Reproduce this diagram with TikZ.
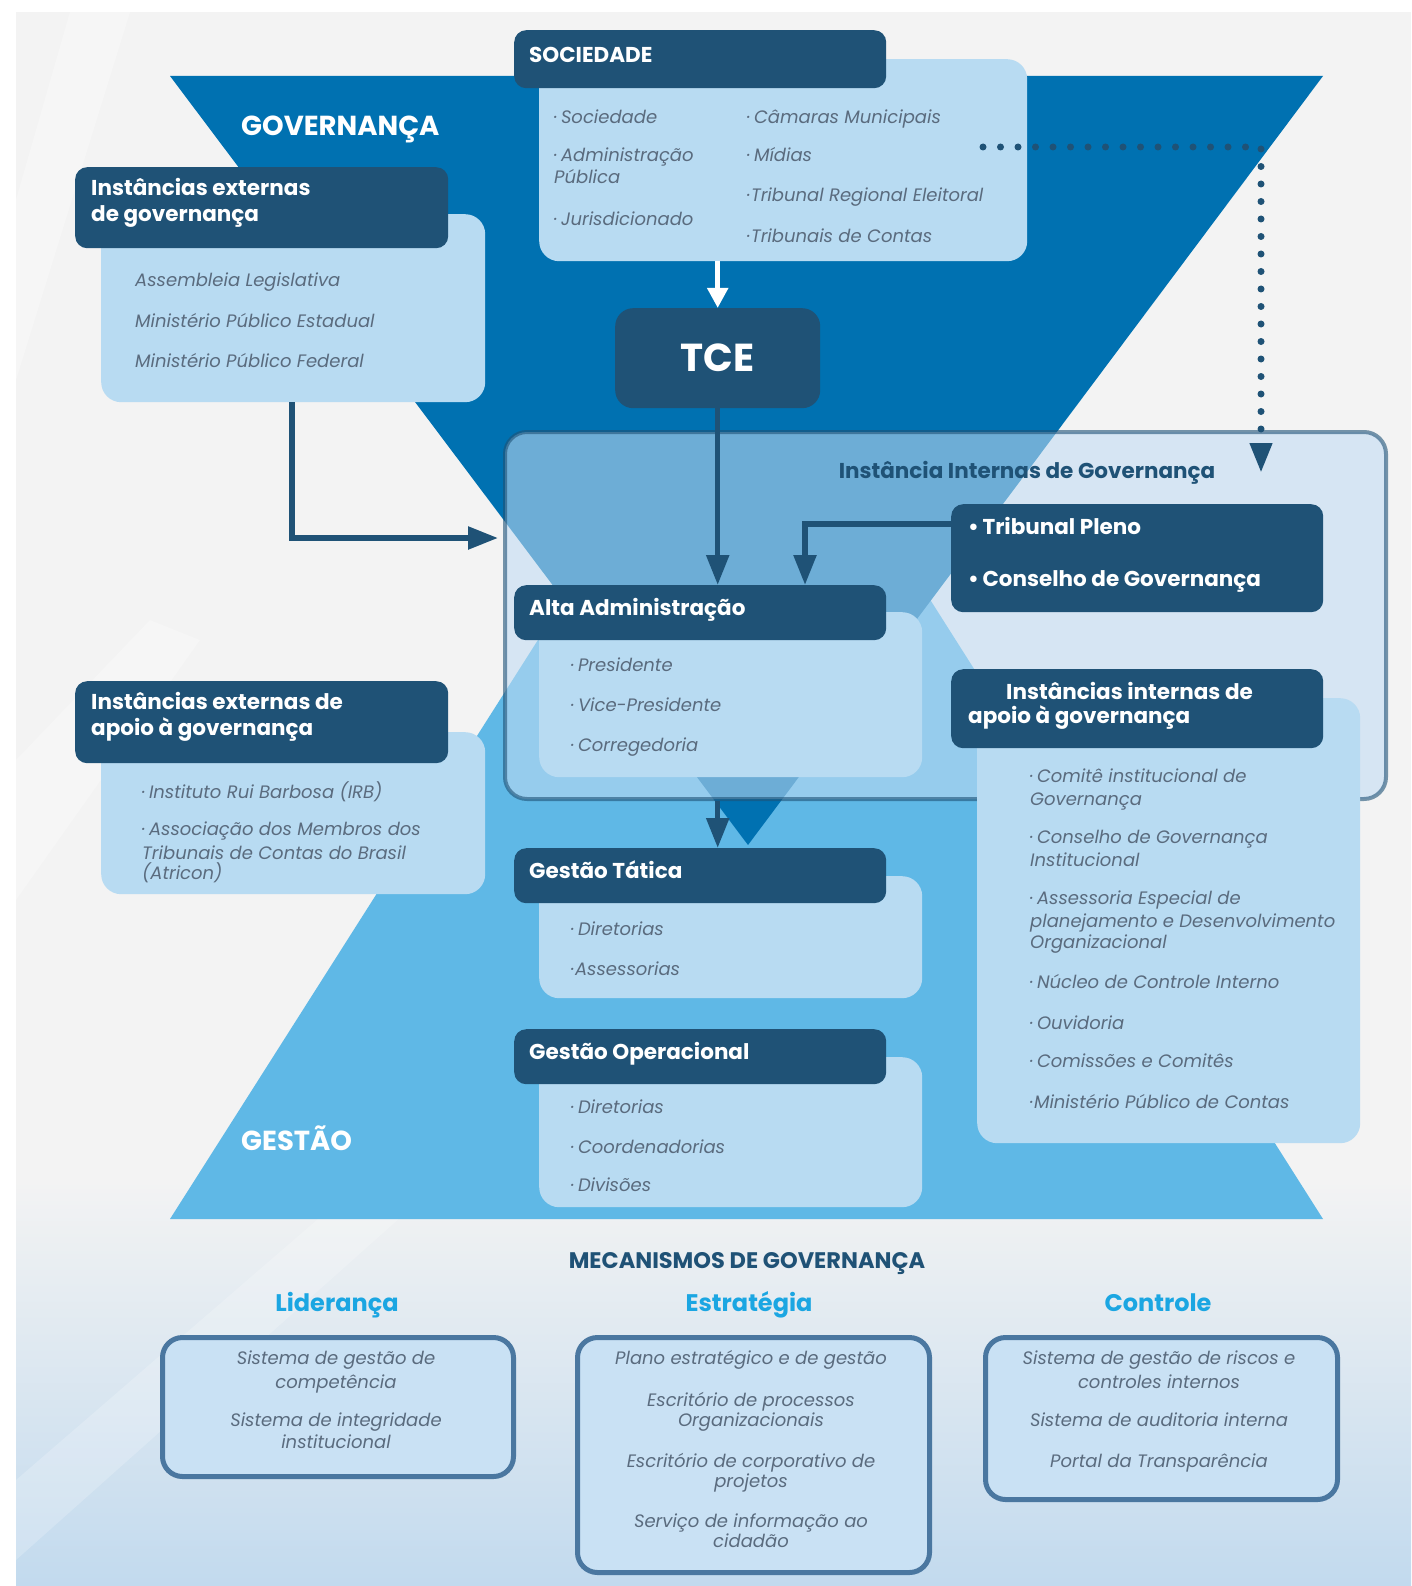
\documentclass[tikz,border=0pt]{standalone}
\usepackage{fontspec}
\setmainfont{Poppins}
\usetikzlibrary{arrows.meta,calc}
\definecolor{bggray}{HTML}{F3F3F3}
\definecolor{bgblue}{HTML}{C2DAEE}
\definecolor{govblue}{HTML}{0071B1}
\definecolor{gestblue}{HTML}{5FB8E6}
\definecolor{navy}{HTML}{1F5276}
\definecolor{bodyblue}{HTML}{B8DBF2}
\definecolor{overlayblue}{HTML}{C0DCF3}
\definecolor{itemgray}{HTML}{5A6B7E}
\definecolor{cyantit}{HTML}{1BA6E2}
\definecolor{mecfill}{HTML}{C9E1F4}
\definecolor{mecframe}{HTML}{4A77A0}
\newcommand\mkbox[6]{\node[#2, minimum width=#5pt, minimum height=#6pt] (#1) at (#3,#4) {};}
\begin{document}
\begin{tikzpicture}[x=1pt,y=-1pt,
  hdr/.style={fill=navy, rounded corners=12pt, anchor=north west, inner sep=0pt, draw=none},
  bodybox/.style={fill=bodyblue, rounded corners=20pt, anchor=north west, inner sep=0pt},
  hdrtxt/.style={text=white, font=\fontsize{21.5}{24}\selectfont\bfseries, anchor=west, inner sep=0pt, text height=0.7em, text depth=0.2em, yshift=-4pt},
  itm/.style={text=itemgray, font=\fontsize{18}{21}\selectfont\itshape, anchor=west, inner sep=0pt, text height=0.7em, text depth=0.2em, yshift=-4pt},
  mitm/.style={itm, anchor=center},
  bigtxt/.style={text=white, font=\fontsize{27.5}{32}\selectfont\bfseries, anchor=west, inner sep=0pt, text height=0.7em, text depth=0.2em, yshift=-6pt},
  conn/.style={draw=navy, line width=5.5pt},
  tipn/.style={-{Triangle[length=30pt,width=22pt]}},
  mecbox/.style={fill=mecfill, draw=mecframe, line width=5pt, rounded corners=20pt, anchor=north west, inner sep=0pt},
  mectit/.style={text=cyantit, font=\fontsize{24}{28}\selectfont\bfseries, anchor=center, inner sep=0pt, text height=0.7em, text depth=0.2em, yshift=-5pt},
]
\useasboundingbox (0,0) rectangle (1411,1586);
\fill[white] (0,0) rectangle (1411,1586);
\fill[bggray] (16,12) rectangle (1411,1586);
\shade[top color=bggray, bottom color=bgblue] (16,1180) rectangle (1411,1586);
% faint streaks
\fill[white, opacity=0.3] (16,200) -- (16,380) -- (130,12) -- (70,12) -- cycle;
\fill[white, opacity=0.25] (16,760) -- (16,900) -- (200,640) -- (150,620) -- cycle;
\fill[white, opacity=0.2] (16,1480) -- (16,1560) -- (420,1200) -- (340,1200) -- cycle;
% big triangles
\fill[gestblue] (747,311) -- (1323,1219) -- (170,1219) -- cycle;
\fill[govblue] (170,76) -- (1323,76) -- (748,845) -- cycle;
\node[bigtxt] (govlbl) at (241,127) {GOVERNANÇA};
\node[bigtxt] (gestlbl) at (241,1142) {GESTÃO};

% SOCIEDADE
\mkbox{socb}{bodybox}{539}{59}{488}{202}
\mkbox{soch}{hdr}{514}{30}{372}{58}
\node[hdrtxt] (socht) at (529,56) {SOCIEDADE};
\node[itm] (s1) at (554,117) {·\,Sociedade};
\node[itm] (s2) at (554,155) {·\,Administração};
\node[itm] (s3) at (554,177) {Pública};
\node[itm] (s4) at (554,219) {·\,Jurisdicionado};
\node[itm] (s5) at (747,117) {·\,Câmaras Municipais};
\node[itm] (s6) at (747,155) {·\,Mídias};
\node[itm] (s7) at (747,195) {·Tribunal Regional Eleitoral};
\node[itm] (s8) at (747,236) {·Tribunais de Contas};

% TCE
\mkbox{tce}{hdr, rounded corners=18pt}{615}{308}{205}{100}
\node[text=white, font=\fontsize{39}{44}\selectfont\bfseries, inner sep=0pt] (tcet) at (tce.center) {TCE};

% Instancias externas de governanca
\mkbox{extb}{bodybox}{101}{214}{384}{188}
\mkbox{exth}{hdr}{75}{167}{373}{81}
\node[hdrtxt] (exht1) at (91,189) {Instâncias externas};
\node[hdrtxt] (exht2) at (91,215) {de governança};
\node[itm] (e1) at (135,280) {Assembleia Legislativa};
\node[itm] (e2) at (135,321) {Ministério Público Estadual};
\node[itm] (e3) at (135,361) {Ministério Público Federal};

% Instancias externas de apoio
\mkbox{apb}{bodybox}{101}{732}{384}{162}
\mkbox{aph}{hdr}{75}{681}{373}{82}
\node[hdrtxt] (apht1) at (91,703) {Instâncias externas de};
\node[hdrtxt] (apht2) at (91,729) {apoio à governança};
\node[itm] (a1) at (142,792) {·\,Instituto Rui Barbosa (IRB)};
\node[itm] (a2) at (142,829) {·\,Associação dos Membros dos};
\node[itm] (a3) at (142,853) {Tribunais de Contas do Brasil};
\node[itm] (a4) at (142,873) {(Atricon)};

% internal governance frame
\node[fill=overlayblue, fill opacity=0.57, draw=navy, draw opacity=0.6, line width=4pt, rounded corners=22pt, anchor=north west, inner sep=0pt, minimum width=881pt, minimum height=367pt] (intern) at (503,430) {};
\node[text=navy, font=\fontsize{21.5}{24}\selectfont\bfseries, inner sep=0pt, text height=0.7em, text depth=0.2em, yshift=-4pt] (interntit) at (1027,472) {Instância Internas de Governança};

% Tribunal
\mkbox{trib}{hdr}{951}{504}{372}{108}
\node[hdrtxt] (tr1) at (968,528) {•\,Tribunal Pleno};
\node[hdrtxt] (tr2) at (968,580) {•\,Conselho de Governança};

% Alta administracao
\mkbox{altab}{bodybox}{539}{612}{383}{165}
\mkbox{altah}{hdr}{514}{585}{372}{55}
\node[hdrtxt] (altat) at (529,609) {Alta Administração};
\node[itm] (al1) at (571,665) {·\,Presidente};
\node[itm] (al2) at (571,705) {·\,Vice-Presidente};
\node[itm] (al3) at (571,745) {·\,Corregedoria};

% Instancias internas de apoio
\mkbox{aib}{bodybox}{977}{698}{383}{445}
\mkbox{aih}{hdr}{951}{669}{372}{79}
\node[hdrtxt] (aiht1) at (1006,693) {Instâncias internas de};
\node[hdrtxt] (aiht2) at (968,717) {apoio à governança};
\node[itm] (i1) at (1030,776) {·\,Comitê institucional de};
\node[itm] (i2) at (1030,799) {Governança};
\node[itm] (i3) at (1030,837) {·\,Conselho de Governança};
\node[itm] (i4) at (1030,860) {Institucional};
\node[itm] (i5) at (1030,898) {·\,Assessoria Especial de};
\node[itm] (i6) at (1030,921) {planejamento e Desenvolvimento};
\node[itm] (i7) at (1030,942) {Organizacional};
\node[itm] (i8) at (1030,982) {·\,Núcleo de Controle Interno};
\node[itm] (i9) at (1030,1023) {·\,Ouvidoria};
\node[itm] (i10) at (1030,1061) {·\,Comissões e Comitês};
\node[itm] (i11) at (1030,1102) {·Ministério Público de Contas};

% Gestao tatica
\mkbox{gtb}{bodybox}{539}{876}{383}{122}
\mkbox{gth}{hdr}{514}{848}{372}{55}
\node[hdrtxt] (gtt) at (529,872) {Gestão Tática};
\node[itm] (gt1) at (571,929) {·\,Diretorias};
\node[itm] (gt2) at (571,969) {·Assessorias};

% Gestao operacional
\mkbox{gob}{bodybox}{539}{1057}{383}{150}
\mkbox{goh}{hdr}{514}{1029}{372}{55}
\node[hdrtxt] (got) at (529,1053) {Gestão Operacional};
\node[itm] (go1) at (571,1107) {·\,Diretorias};
\node[itm] (go2) at (571,1147) {·\,Coordenadorias};
\node[itm] (go3) at (571,1185) {·\,Divisões};

% connectors
\draw[white, line width=5pt, -{Triangle[length=20pt,width=20pt]}] (tce.north |- socb.south) -- (tce.north);
\draw[conn, tipn] (tce.south) -- (tce.south |- altah.north);
\coordinate (tk) at (805,524);
\draw[conn, tipn] (tk -| trib.west) -- (tk) -- (tk |- altah.north);
\coordinate (ek) at (292,538);
\draw[conn, tipn] (extb.south -| ek) -- (ek) -- ([xshift=-5pt]ek -| intern.west);
\draw[conn, tipn] (tce.south |- intern.south) -- (tce.south |- gth.north);
\coordinate (dots) at (983,147);
\coordinate (dotc) at (1261,147);
\coordinate (dote) at (1261,473);
\draw[navy, line width=7pt, line cap=round, dash pattern=on 0pt off 17.5pt, -{Triangle[length=30pt,width=21pt]}] (dots) -- (dotc) -- (dote);

% mecanismos
\node[text=navy, font=\fontsize{22.5}{24}\selectfont\bfseries, inner sep=0pt, text height=0.7em, text depth=0.2em, yshift=-5pt] (mect) at (747,1261) {MECANISMOS DE GOVERNANÇA};
\node[mectit] (lid) at (337,1304) {Liderança};
\node[mectit] (est) at (749,1304) {Estratégia};
\node[mectit] (con) at (1158,1304) {Controle};
\mkbox{lidb}{mecbox}{160}{1335}{351}{139}
\mkbox{estb}{mecbox}{575}{1335}{352}{235}
\mkbox{conb}{mecbox}{983}{1335}{352}{162}
\node[mitm] (l1) at (336,1358) {Sistema de gestão de};
\node[mitm] (l2) at (336,1382) {competência};
\node[mitm] (l3) at (336,1420) {Sistema de integridade};
\node[mitm] (l4) at (336,1442) {institucional};
\node[mitm] (m1) at (751,1358) {Plano estratégico e de gestão};
\node[mitm] (m2) at (751,1400) {Escritório de processos};
\node[mitm] (m3) at (751,1420) {Organizacionais};
\node[mitm] (m4) at (751,1461) {Escritório de corporativo de};
\node[mitm] (m5) at (751,1481) {projetos};
\node[mitm] (m6) at (751,1521) {Serviço de informação ao};
\node[mitm] (m7) at (751,1541) {cidadão};
\node[mitm] (c1) at (1159,1358) {Sistema de gestão de riscos e};
\node[mitm] (c2) at (1159,1382) {controles internos};
\node[mitm] (c3) at (1159,1420) {Sistema de auditoria interna};
\node[mitm] (c4) at (1159,1461) {Portal da Transparência};
\end{tikzpicture}
\end{document}
